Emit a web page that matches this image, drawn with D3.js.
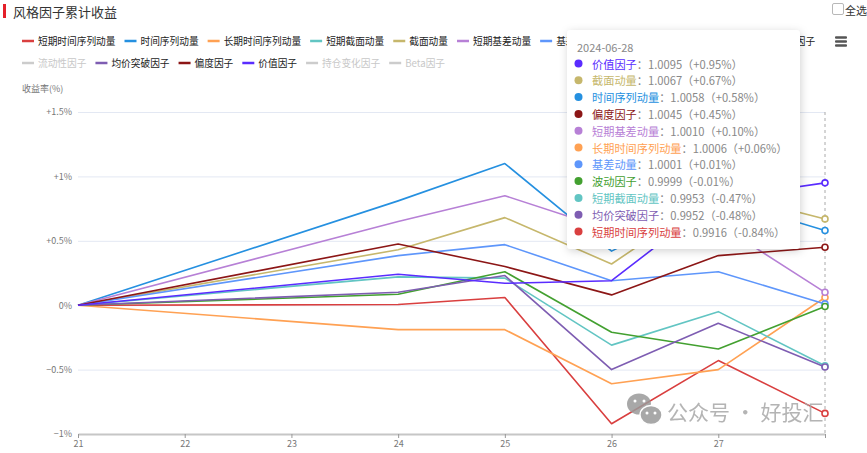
<!DOCTYPE html>
<html>
<head>
<meta charset="utf-8">
<script src="https://cdn.jsdelivr.net/npm/d3@7"></script>
<style>
  body { margin: 0; background: #fff; }
  svg { font-family: "Microsoft YaHei", "Noto Sans CJK SC", sans-serif; display: block; }
</style>
</head>
<body>
<div id="chart"></div>
<script>
// dates on the x axis (22/23 are the weekend, no values)
const dates = ['2024-06-21','2024-06-22','2024-06-23','2024-06-24','2024-06-25','2024-06-26','2024-06-27','2024-06-28'];
const dayLabels = ['21','22','23','24','25','26','27',''];

// cumulative return in %
const stTimeSeries  = [0, null, null, 0.005, 0.06, -0.92, -0.43, -0.84];
const timeSeries    = [0, null, null, 0.81, 1.10, 0.42, 0.83, 0.58];
const ltTimeSeries  = [0, null, null, -0.19, -0.19, -0.61, -0.50, 0.06];
const stCross       = [0, null, null, 0.22, 0.21, -0.31, -0.05, -0.47];
const cross         = [0, null, null, 0.43, 0.68, 0.32, 0.88, 0.67];
const stBasis       = [0, null, null, 0.65, 0.85, 0.58, 0.63, 0.10];
const basis         = [0, null, null, 0.385, 0.47, 0.19, 0.26, 0.01];
const volatility    = [0, null, null, 0.085, 0.26, -0.21, -0.34, -0.01];
const breakout      = [0, null, null, 0.10, 0.23, -0.50, -0.14, -0.48];
const skew          = [0, null, null, 0.475, 0.30, 0.08, 0.385, 0.45];
const value         = [0, null, null, 0.24, 0.17, 0.19, 0.83, 0.95];

const yTicks = [-1, -0.5, 0, 0.5, 1, 1.5];

const legendRow1 = ['短期时间序列动量','时间序列动量','长期时间序列动量','短期截面动量','截面动量','短期基差动量','基差动量','波动因子','成交量因子','期限结构因子'];
const legendRow2 = ['流动性因子','均价突破因子','偏度因子','价值因子','持仓变化因子','Beta因子'];
const disabled = ['流动性因子','持仓变化因子','Beta因子'];

const colors = {
  '短期时间序列动量': '#d93f3f',
  '时间序列动量': '#2590e0',
  '长期时间序列动量': '#ffa153',
  '短期截面动量': '#62c5c3',
  '截面动量': '#c6b76c',
  '短期基差动量': '#b780d6',
  '基差动量': '#5e96fb',
  '波动因子': '#43a030',
  '成交量因子': '#e07bb0',
  '期限结构因子': '#3a7a8c',
  '流动性因子': '#cccccc',
  '均价突破因子': '#7e5db2',
  '偏度因子': '#8c1616',
  '价值因子': '#5a2cff',
  '持仓变化因子': '#cccccc',
  'Beta因子': '#cccccc'
};

const series = [
  {name: '短期时间序列动量', values: stTimeSeries},
  {name: '时间序列动量', values: timeSeries},
  {name: '长期时间序列动量', values: ltTimeSeries},
  {name: '短期截面动量', values: stCross},
  {name: '截面动量', values: cross},
  {name: '短期基差动量', values: stBasis},
  {name: '基差动量', values: basis},
  {name: '波动因子', values: volatility},
  {name: '均价突破因子', values: breakout},
  {name: '偏度因子', values: skew},
  {name: '价值因子', values: value}
];

const width = 867, height = 453;
const plot = {left: 78, right: 825, top: 112, bottom: 434};

const svg = d3.select('#chart').append('svg')
  .attr('width', width).attr('height', height);

const defs = svg.append('defs');
const shadow = defs.append('filter').attr('id', 'shadow')
  .attr('x', '-10%').attr('y', '-10%').attr('width', '120%').attr('height', '120%');
shadow.append('feDropShadow').attr('dx', 1).attr('dy', 2).attr('stdDeviation', 4)
  .attr('flood-color', '#000').attr('flood-opacity', 0.18);

// title
svg.append('rect').attr('x', 3).attr('y', 4).attr('width', 3).attr('height', 14).attr('fill', '#e4202a');
svg.append('text').attr('x', 13).attr('y', 11).attr('dominant-baseline', 'central')
  .attr('font-size', 13).attr('fill', '#333').text('风格因子累计收益');

// select-all checkbox
svg.append('rect').attr('x', 832.5).attr('y', 3.5).attr('width', 11).attr('height', 11)
  .attr('rx', 1.5).attr('fill', '#fff').attr('stroke', '#b8b8b8');
svg.append('text').attr('x', 845).attr('y', 9.5).attr('dominant-baseline', 'central')
  .attr('font-size', 11).attr('fill', '#333').text('全选');

// menu icon
[37.5, 41.5, 45.5].forEach(yy => {
  svg.append('rect').attr('x', 835).attr('y', yy - 1.2).attr('width', 12).attr('height', 2.4)
    .attr('rx', 1).attr('fill', '#555');
});

// scales
const x = d3.scalePoint().domain(dates).range([plot.left, plot.right]);
const y = d3.scaleLinear().domain([-1, 1.5]).range([plot.bottom, plot.top]);

// y axis label
svg.append('text').attr('x', 22).attr('y', 88).attr('dominant-baseline', 'central')
  .attr('font-size', 9).attr('fill', '#777').text('收益率(%)');

const fmtY = v => v === 0 ? '0%' : (v > 0 ? '+' : '') + d3.format('~g')(v) + '%';

const yAxis = svg.append('g')
  .attr('transform', `translate(${plot.left},0)`)
  .call(d3.axisLeft(y).tickValues(yTicks).tickFormat(fmtY)
        .tickSize(-(plot.right - plot.left)).tickPadding(6));
yAxis.select('.domain').remove();
yAxis.selectAll('.tick line').attr('stroke', '#e3e8f3').attr('stroke-width', 1);
yAxis.selectAll('.tick text').attr('font-size', 9).attr('fill', '#777')
  .attr('font-family', '"Microsoft YaHei", "Noto Sans CJK SC", sans-serif');
yAxis.selectAll('.tick').filter(d => d === -1).select('line').remove();

const xAxis = svg.append('g')
  .attr('transform', `translate(0,${plot.bottom})`)
  .call(d3.axisBottom(x).tickFormat((d, i) => dayLabels[i]).tickSize(4).tickSizeOuter(0).tickPadding(3));
xAxis.select('.domain').attr('stroke', '#c6c6c6').attr('stroke-width', 2);
xAxis.selectAll('.tick line').attr('stroke', '#999');
xAxis.selectAll('.tick text').attr('font-size', 9).attr('fill', '#777')
  .attr('font-family', '"Microsoft YaHei", "Noto Sans CJK SC", sans-serif');

// axis pointer on last date
svg.append('line')
  .attr('x1', x(dates[dates.length - 1])).attr('x2', x(dates[dates.length - 1]))
  .attr('y1', plot.top).attr('y2', plot.bottom)
  .attr('stroke', '#aaa').attr('stroke-dasharray', '3,3').attr('stroke-width', 1);

// lines
const line = d3.line().x(d => x(d.date)).y(d => y(d.v));
const gLines = svg.append('g');
series.forEach(s => {
  const pts = s.values.map((v, i) => ({date: dates[i], v})).filter(d => d.v !== null);
  gLines.append('path').datum(pts)
    .attr('d', line)
    .attr('fill', 'none')
    .attr('stroke', colors[s.name])
    .attr('stroke-width', 1.6)
    .attr('stroke-linejoin', 'round');
  const last = pts[pts.length - 1];
  gLines.append('circle')
    .attr('cx', x(last.date)).attr('cy', y(last.v)).attr('r', 3)
    .attr('fill', '#fff').attr('stroke', colors[s.name]).attr('stroke-width', 1.6);
});

// legend
function drawLegend(names, cy) {
  let cx = 22;
  names.forEach(n => {
    const off = disabled.indexOf(n) !== -1;
    svg.append('line').attr('x1', cx).attr('x2', cx + 12).attr('y1', cy).attr('y2', cy)
      .attr('stroke', off ? '#ccc' : colors[n]).attr('stroke-width', 2.5);
    const t = svg.append('text').attr('x', cx + 16).attr('y', cy).attr('dominant-baseline', 'central')
      .attr('font-size', 9.7).attr('fill', off ? '#c8c8c8' : '#222').text(n);
    cx = cx + 16 + t.node().getComputedTextLength() + 9;
  });
}
drawLegend(legendRow1, 41);
drawLegend(legendRow2, 63);

// watermark
const wm = svg.append('g').attr('opacity', 0.85);
wm.append('ellipse').attr('cx', 639).attr('cy', 404).attr('rx', 12).attr('ry', 10.5).attr('fill', '#9a9a9a');
wm.append('ellipse').attr('cx', 651).attr('cy', 415).attr('rx', 11).attr('ry', 9.5).attr('fill', '#9a9a9a')
  .attr('stroke', '#fff').attr('stroke-width', 1.4);
[[635, 401], [644, 401], [647, 413], [655, 413]].forEach(p => {
  wm.append('circle').attr('cx', p[0]).attr('cy', p[1]).attr('r', 1.5).attr('fill', '#fff');
});
wm.append('text').attr('x', 667).attr('y', 411).attr('dominant-baseline', 'central')
  .attr('font-size', 21).attr('fill', '#a8a8a8').attr('xml:space', 'preserve')
  .text('公众号 · 好投汇');

// tooltip
const lastIdx = dates.length - 1;
const tipRows = series.map(s => ({name: s.name, v: s.values[lastIdx]}))
  .sort((a, b) => b.v - a.v);

const tip = svg.append('g');
tip.append('rect').attr('x', 567).attr('y', 30).attr('width', 233).attr('height', 219)
  .attr('rx', 4).attr('fill', '#fff').attr('filter', 'url(#shadow)');
tip.append('text').attr('x', 577).attr('y', 47).attr('dominant-baseline', 'central')
  .attr('font-size', 11).attr('fill', '#888').text(dates[lastIdx]);

tipRows.forEach((r, i) => {
  const cy = 63.5 + i * 16.8;
  tip.append('circle').attr('cx', 578.5).attr('cy', cy).attr('r', 4).attr('fill', colors[r.name]);
  const t = tip.append('text').attr('x', 592).attr('y', cy).attr('dominant-baseline', 'central')
    .attr('font-size', 11.2);
  t.append('tspan').attr('fill', colors[r.name]).text(r.name);
  const nav = (1 + r.v / 100).toFixed(4);
  const pct = (r.v >= 0 ? '+' : '') + r.v.toFixed(2) + '%';
  t.append('tspan').attr('fill', '#888').text('：' + nav + '（' + pct + '）');
});
</script>
</body>
</html>
